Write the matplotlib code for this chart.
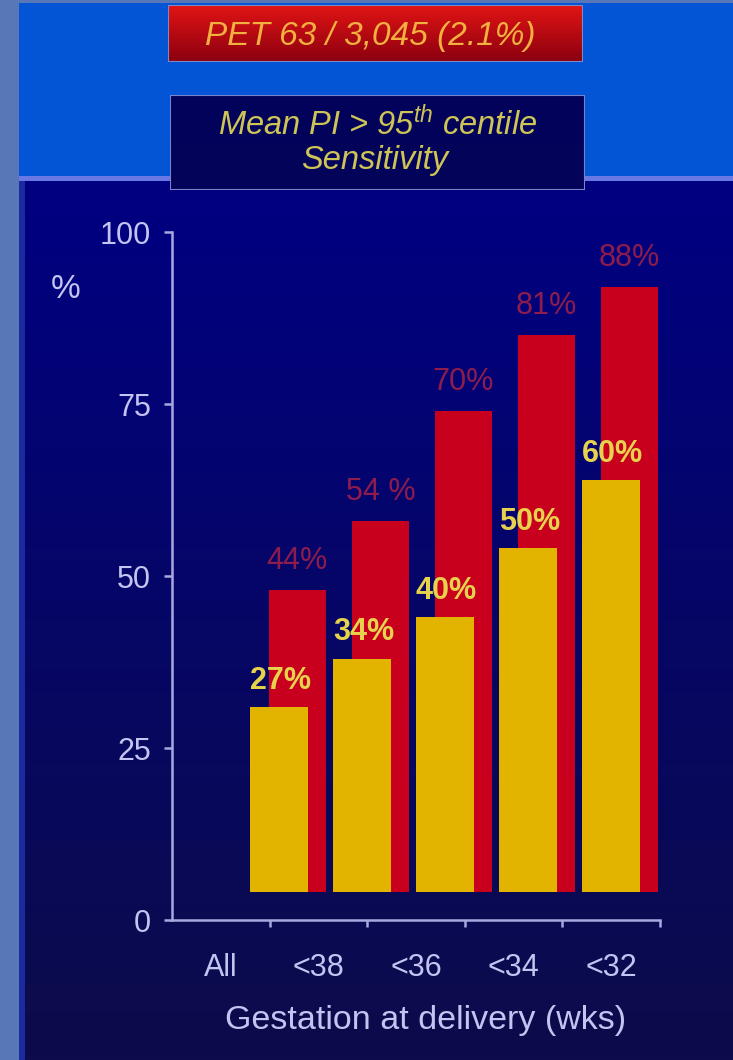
import numpy as np
import matplotlib
matplotlib.use("Agg")
import matplotlib.pyplot as plt
from matplotlib.colors import LinearSegmentedColormap
from matplotlib.patches import Rectangle

plt.rcParams["font.family"] = ["Liberation Sans", "DejaVu Sans"]
plt.rcParams["mathtext.fontset"] = "custom"
plt.rcParams["mathtext.rm"] = "Liberation Sans"
plt.rcParams["mathtext.it"] = "Liberation Sans:italic"

# ---- data -------------------------------------------------------------
categories = ["All", "<38", "<36", "<34", "<32"]
all_pet = [44, 54, 70, 81, 88]          # red bars
all_pet_labels = ["44%", "54 %", "70%", "81%", "88%"]
early_pet = [27, 34, 40, 50, 60]        # yellow bars
yticks = [0, 25, 50, 75, 100]

title_top = "PET 63 / 3,045 (2.1%)"
title_box = ["Mean PI > 95$^{th}$ centile", "Sensitivity"]
xlabel = "Gestation at delivery (wks)"

TICK_C = "#c4c4f2"
W, H = 733, 1060


def fx(px):
    return px / W


def fy(py):
    return 1 - py / H


def gradient_axes(fig, rect, top, bottom, z=0):
    a = fig.add_axes(rect, zorder=z)
    cmap = LinearSegmentedColormap.from_list("g", [top, bottom])
    a.imshow(np.linspace(0, 1, 256)[:, None], aspect="auto", cmap=cmap,
             extent=(0, 1, 0, 1))
    a.set_axis_off()
    return a


def fig_rect(fig, x0, y0, x1, y1, color, z=-1):
    # rectangle in pixel coords (y measured from the top)
    fig.add_artist(Rectangle((fx(x0), fy(y1)), fx(x1) - fx(x0), fy(y0) - fy(y1),
                             transform=fig.transFigure, color=color, lw=0,
                             zorder=z))


fig = plt.figure(figsize=(W / 100, H / 100), dpi=100)
fig.patch.set_facecolor("#5877b6")

# slide background: bright blue header, dark navy body
fig_rect(fig, 19, 3, W, 178, "#0454d6")
fig_rect(fig, 19, 176, W, 181, "#6a78e6")
gradient_axes(fig, [fx(19), 0, 1 - fx(19), fy(181)], "#000082", "#0c0c4a")
fig_rect(fig, 19, 181, 25, H, "#1c2aa0", z=0.5)

# header boxes
rb = gradient_axes(fig, [fx(168), fy(62), fx(583) - fx(168), fy(5) - fy(62)],
                   "#e21414", "#8a0010", z=1)
rb.add_patch(Rectangle((0, 0), 1, 1, transform=rb.transAxes, fill=False,
                       ec="#8088c8", lw=1.5))
fig.text(fx(370), fy(36), title_top, ha="center", va="center",
         fontsize=24, style="italic", color="#f2b040", zorder=3)

nb = gradient_axes(fig, [fx(170), fy(190), fx(585) - fx(170), fy(95) - fy(190)],
                   "#02025c", "#04045a", z=1)
nb.add_patch(Rectangle((0, 0), 1, 1, transform=nb.transAxes, fill=False,
                       ec="#7a82c8", lw=1.5))
fig.text(fx(378), fy(124), title_box[0], ha="center", va="center",
         fontsize=23.5, style="italic", color="#cfc456", zorder=3)
fig.text(fx(375), fy(161), title_box[1], ha="center", va="center",
         fontsize=23.5, style="italic", color="#cfc456", zorder=3)

# ---- chart ------------------------------------------------------------
ax = fig.add_axes([fx(172), fy(920), fx(660) - fx(172), fy(232) - fy(920)])
ax.set_facecolor("none")
ax.set_xlim(-0.5, len(categories) - 0.5)
ax.set_ylim(0, 100)
ax.set_yticks(yticks)
ax.set_yticklabels([str(t) for t in yticks])
ax.set_xticks(np.arange(len(categories)))
ax.set_xticklabels(categories)
ax.set_xticks(np.arange(len(categories)) + 0.5, minor=True)
ax.tick_params(axis="x", which="major", length=0, pad=24, labelsize=22,
               labelcolor=TICK_C)
ax.tick_params(axis="x", which="minor", length=5, width=1.8, color="#a8a8e0",
               direction="out")
ax.tick_params(axis="y", length=6, width=1.8, color="#a8a8e0", pad=9,
               labelsize=22, labelcolor=TICK_C)
for s in ("top", "right"):
    ax.spines[s].set_visible(False)
for s in ("left", "bottom"):
    ax.spines[s].set_color("#a8a8e0")
    ax.spines[s].set_linewidth(1.8)
ax.set_xlabel(xlabel, fontsize=24.5, color=TICK_C)
ax.xaxis.set_label_coords(0.52, -0.123)
fig.text(fx(66), fy(290), "%", ha="center", va="center", fontsize=24,
         color=TICK_C)

# bars sit on their own x scale, sharing the y axis
bx = ax.twiny()
bx.set_xlim(-1.40, 4.48)
bx.set_axis_off()
pos = np.arange(len(categories))
base = 4
bw = 0.69
red = bx.bar(pos + 0.11, all_pet, width=bw, bottom=base, color="#c8001e",
             zorder=2)
yel = bx.bar(pos - 0.11, early_pet, width=bw, bottom=base, color="#e2b400",
             zorder=3)

for rect, lab in zip(red, all_pet_labels):
    bx.annotate(lab, (rect.get_x() + rect.get_width() / 2, rect.get_y() + rect.get_height()),
                xytext=(0, 10), textcoords="offset points", ha="center",
                va="bottom", fontsize=22, color="#8e1c4c", zorder=4)
for rect, v in zip(yel, early_pet):
    bx.annotate(f"{v}%", (rect.get_x() + rect.get_width() / 2, rect.get_y() + rect.get_height()),
                xytext=(1, 8), textcoords="offset points", ha="center",
                va="bottom", fontsize=22, fontweight="bold", color="#e6d24c",
                zorder=4)

fig.savefig("out.png", dpi=100, facecolor=fig.get_facecolor())
